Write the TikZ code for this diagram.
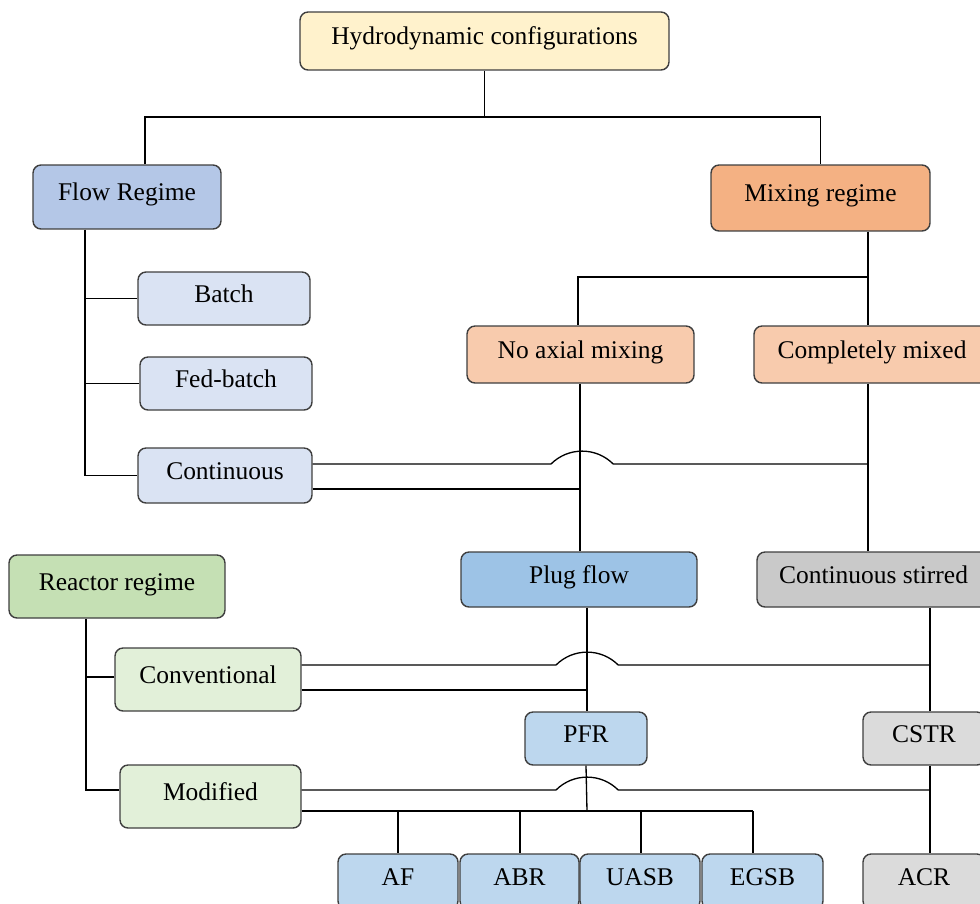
\documentclass[tikz,border=0pt]{standalone}
\usepackage{fontspec}
\setmainfont{Liberation Serif}
\definecolor{hydrofill}{HTML}{FFF2CC}
\definecolor{flowfill}{HTML}{B4C7E7}
\definecolor{flowsub}{HTML}{DAE3F3}
\definecolor{mixfill}{HTML}{F4B183}
\definecolor{mixsub}{HTML}{F8CBAD}
\definecolor{reactorfill}{HTML}{C5E0B4}
\definecolor{reactorsub}{HTML}{E2F0D9}
\definecolor{plugfill}{HTML}{9DC3E6}
\definecolor{pfrfill}{HTML}{BDD7EE}
\definecolor{stirredfill}{HTML}{C9C9C9}
\definecolor{cstrfill}{HTML}{DBDBDB}
\definecolor{boxline}{HTML}{3F3F3F}
\begin{document}
\begin{tikzpicture}[
        x=0.02cm, y=-0.02cm,
        box/.style={rectangle, rounded corners=0.16cm, draw=boxline, line width=0.8pt, align=center, inner sep=2pt, text height=0.7em, text depth=0.3em, font=\fontsize{14.5}{17}\selectfont},
        link/.style={line width=0.75pt}
    ]
        \useasboundingbox (0,0) rectangle (980,903);

        % Top level
        \node[box, fill=hydrofill, minimum width=7.38cm, minimum height=1.16cm] (hydro) at (484.5, 41) {Hydrodynamic configurations};
        \node[box, fill=flowfill, minimum width=3.76cm, minimum height=1.28cm] (flow) at (127, 197) {Flow Regime};
        \node[box, fill=mixfill, minimum width=4.38cm, minimum height=1.32cm] (mixing) at (820.5, 198) {Mixing regime};

        % Flow regime branches
        \node[box, fill=flowsub, minimum width=3.44cm, minimum height=1.06cm] (batch) at (224, 298.5) {Batch};
        \node[box, fill=flowsub, minimum width=3.44cm, minimum height=1.06cm] (fedbatch) at (226, 383.5) {Fed-batch};
        \node[box, fill=flowsub, minimum width=3.48cm, minimum height=1.1cm] (continuous) at (225, 475.5) {Continuous};

        % Mixing regime branches
        \node[box, fill=mixsub, minimum width=4.54cm, minimum height=1.14cm] (noaxial) at (580.5, 354.5) {No axial mixing};
        \node[box, fill=mixsub, minimum width=4.72cm, minimum height=1.14cm] (complete) at (872, 354.5) {Completely mixed};
        \node[box, fill=plugfill, minimum width=4.72cm, minimum height=1.1cm] (plug) at (579, 579.5) {Plug flow};
        \node[box, fill=stirredfill, minimum width=4.66cm, minimum height=1.1cm] (stirred) at (873.5, 579.5) {Continuous stirred};

        % Reactor regime
        \node[box, fill=reactorfill, minimum width=4.32cm, minimum height=1.26cm] (reactor) at (117, 586.5) {Reactor regime};
        \node[box, fill=reactorsub, minimum width=3.72cm, minimum height=1.26cm] (conv) at (208, 679.5) {Conventional};
        \node[box, fill=reactorsub, minimum width=3.62cm, minimum height=1.26cm] (modified) at (210.5, 796.5) {Modified};

        % Reactor types
        \node[box, fill=pfrfill, minimum width=2.44cm, minimum height=1.06cm] (pfr) at (586, 738.5) {PFR};
        \node[box, fill=cstrfill, minimum width=2.44cm, minimum height=1.06cm] (cstr) at (924, 738.5) {CSTR};
        \node[box, fill=pfrfill, minimum width=2.4cm, minimum height=1.1cm] (af) at (398, 881.5) {AF};
        \node[box, fill=pfrfill, minimum width=2.38cm, minimum height=1.1cm] (abr) at (519.5, 881.5) {ABR};
        \node[box, fill=pfrfill, minimum width=2.4cm, minimum height=1.1cm] (uasb) at (640, 881.5) {UASB};
        \node[box, fill=pfrfill, minimum width=2.42cm, minimum height=1.1cm] (egsb) at (762.5, 881.5) {EGSB};
        \node[box, fill=cstrfill, minimum width=2.44cm, minimum height=1.1cm] (acr) at (924, 881.5) {ACR};

        % Bus points
        \coordinate (topbus) at (484.5, 117);
        \coordinate (mixbus) at (868, 277);
        \coordinate (cmjoin) at (868, 464);
        \coordinate (pfjoin) at (580, 489);
        \coordinate (csjoin) at (930, 665);
        \coordinate (pfrjoin) at (587, 690);
        \coordinate (cstrjoin) at (930, 790);
        \coordinate (typebus) at (587, 811);

        % Top tree
        \draw[link] (hydro.south) -- (topbus);
        \draw[link] (flow.north -| 145,0) |- (topbus) -| (mixing.north);

        % Flow regime tree
        \draw[link] (flow.south -| 85,0) |- (continuous.west);
        \draw[link] (batch.west) -- (batch.west -| 85,0);
        \draw[link] (fedbatch.west) -- (fedbatch.west -| 85,0);

        % Mixing regime tree
        \draw[link] (mixing.south -| mixbus) -- (complete.north -| mixbus);
        \draw[link] (mixbus) -| (noaxial.north -| 578,0);
        \draw[link] (noaxial.south -| pfjoin) -- (plug.north -| pfjoin);
        \draw[link] (complete.south -| cmjoin) -- (stirred.north -| cmjoin);

        % Continuous to both mixing types
        \draw[link] (continuous.east |- cmjoin) -- (551, 464) arc[start angle=135, end angle=45, radius=0.88cm] -- (cmjoin);
        \draw[link] (continuous.east |- pfjoin) -- (pfjoin);

        % Mixing types to reactor types
        \draw[link] (plug.south -| pfrjoin) -- (pfr.north -| pfrjoin);
        \draw[link] (stirred.south -| csjoin) -- (cstr.north -| csjoin);

        % Reactor regime tree
        \draw[link] (reactor.south -| 86,0) |- (modified.west |- cstrjoin);
        \draw[link] (conv.west |- 0,677) -- (86, 677);

        % Conventional links
        \draw[link] (conv.east |- csjoin) -- (556, 665) arc[start angle=135, end angle=45, radius=0.88cm] -- (csjoin);
        \draw[link] (conv.east |- pfrjoin) -- (pfrjoin);

        % Modified links
        \draw[link] (pfr.south) -- (typebus);
        \draw[link] (modified.east |- cstrjoin) -- (556, 790) arc[start angle=135, end angle=45, radius=0.88cm] -- (cstrjoin);
        \draw[link] (modified.east |- typebus) -- (753, 811);
        \foreach \n/\x in {af/398, abr/520, uasb/641, egsb/753}
            \draw[link] (\x, 811) -- (\n.north -| \x,0);
        \draw[link] (cstr.south -| csjoin) -- (acr.north -| csjoin);

    \end{tikzpicture}
\end{document}
